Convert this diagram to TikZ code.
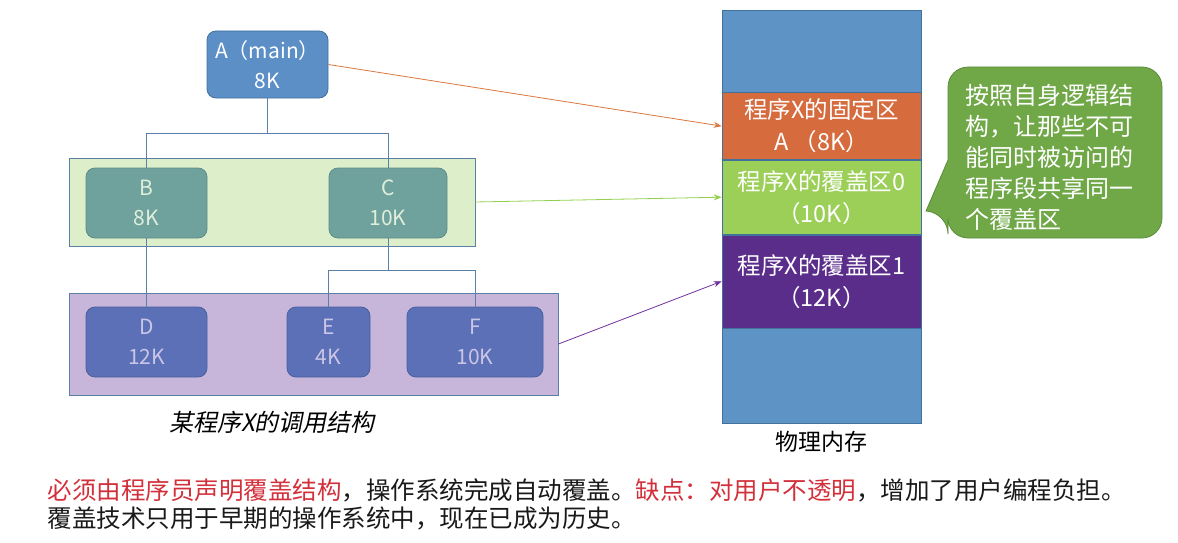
\documentclass[tikz,border=0pt]{standalone}
\usepackage{fontspec}
\setmainfont{Noto Sans CJK SC}
\newfontfamily\slantcjk[FakeSlant=0.2]{Noto Sans CJK SC}
\usepackage{xcolor}
\usetikzlibrary{positioning, arrows.meta, calc}

\definecolor{nodeblue}{HTML}{5B8FC6}
\definecolor{nodeblueedge}{HTML}{41719C}
\definecolor{lineblue}{HTML}{5A80A8}
\definecolor{greenband}{HTML}{DDEECB}
\definecolor{purpleband}{HTML}{C7B6DA}
\definecolor{tealbox}{HTML}{6FA29C}
\definecolor{tealedge}{HTML}{5E8C86}
\definecolor{tealtext}{HTML}{E0EEDC}
\definecolor{indigobox}{HTML}{5B70B6}
\definecolor{indigoedge}{HTML}{4A5FA0}
\definecolor{indigotext}{HTML}{CBC6E6}
\definecolor{memblue}{HTML}{5E93C6}
\definecolor{memorange}{HTML}{D66B3E}
\definecolor{memgreen}{HTML}{9BCF58}
\definecolor{mempurple}{HTML}{5B2D8B}
\definecolor{memedge}{HTML}{41719C}
\definecolor{bubblegreen}{HTML}{70A848}
\definecolor{bubbleedge}{HTML}{5B8C3A}
\definecolor{arroworange}{HTML}{D9773F}
\definecolor{arrowgreen}{HTML}{92D050}
\definecolor{arrowpurple}{HTML}{7030A0}
\definecolor{warnred}{HTML}{D2303A}

\begin{document}
\begin{tikzpicture}[x=1pt, y=-1pt,
    box/.style={draw, rounded corners=9pt, line width=0.8pt, align=center,
        inner sep=0pt, font=\fontsize{21}{30}\selectfont},
    band/.style={draw=lineblue, line width=0.8pt, inner sep=0pt},
    tree/.style={draw=lineblue, line width=1pt},
    memblock/.style={draw=memedge, line width=0.6pt, minimum width=199pt,
        inner sep=0pt, align=center, text=white,
        font=\fontsize{23.5}{32}\selectfont},
    link/.style={-{Stealth[length=8pt,width=6pt]}, line width=0.8pt}]
    \useasboundingbox (0,0) rectangle (1178,543);

    % Bands behind the call tree
    \node[band, fill=greenband, minimum width=406pt, minimum height=88pt] (band1) at (272,202) {};
    \node[band, fill=purpleband, minimum width=489pt, minimum height=102pt] (band2) at (313.5,344) {};

    % Call tree of program X
    \node[box, fill=nodeblue, draw=nodeblueedge, text=white, minimum width=121pt, minimum height=67pt] (A) at (267.5,64.5) {A（main）\\8K};
    \node[box, fill=tealbox, draw=tealedge, text=tealtext, minimum width=121pt, minimum height=70pt] (B) at (146.5,203) {B\\8K};
    \node[box, fill=tealbox, draw=tealedge, text=tealtext, minimum width=118pt, minimum height=70pt] (C) at (388,203) {C\\10K};
    \node[box, fill=indigobox, draw=indigoedge, text=indigotext, minimum width=121pt, minimum height=70pt] (D) at (146.5,342) {D\\12K};
    \node[box, fill=indigobox, draw=indigoedge, text=indigotext, minimum width=83pt, minimum height=70pt] (E) at (328.5,342) {E\\4K};
    \node[box, fill=indigobox, draw=indigoedge, text=indigotext, minimum width=136pt, minimum height=70pt] (F) at (475,342) {F\\10K};

    % Tree connectors
    \coordinate (j1) at ($(A.south)+(0,35)$);
    \coordinate (j2) at ($(C.south)+(0,32)$);
    \draw[tree] (A.south) -- (j1) -| (B.north);
    \draw[tree] (j1) -| (C.north);
    \draw[tree] (B.south) -- (D.north);
    \draw[tree] (C.south) -- (j2) -| (E.north);
    \draw[tree] (j2) -| (F.north);

    \node[font=\slantcjk\fontsize{24}{24}\selectfont] (caption) at (272,422) {某程序X的调用结构};

    % Physical memory
    \node[memblock, fill=memblue, minimum height=82pt] (mem0) at (821.5,51) {};
    \node[memblock, fill=memorange, minimum height=67pt, below=0pt of mem0] (fixed) {程序X的固定区\\A （8K）};
    \node[memblock, fill=memgreen, minimum height=74pt, below=0pt of fixed] (ov0) {程序X的覆盖区0\\（10K）};
    \node[memblock, fill=mempurple, minimum height=93pt, below=0pt of ov0] (ov1) {程序X的覆盖区1\\（12K）};
    \node[memblock, fill=memblue, minimum height=95pt, below=0pt of ov1] (mem4) {};
    \node[font=\fontsize{23}{23}\selectfont, below=4pt of mem4] (memlabel) {物理内存};

    % Arrows into memory
    \draw[link, draw=arroworange] (A.east) -- (fixed.west);
    \draw[link, draw=arrowgreen] (band1.east) -- (ov0.west);
    \draw[link, draw=arrowpurple] (band2.east) -- (ov1.west);

    % Speech bubble
    \filldraw[fill=bubblegreen, draw=bubbleedge, line width=0.8pt]
        (926,211) -- (948,160) [rounded corners=20pt] -- (948,67) -- (1162,67)
        -- (1162,238) -- (948,238) -- (948,214) [sharp corners] -- cycle;
    \node[text=white, align=left, font=\fontsize{24}{31}\selectfont] (note) at (1049,157)
        {按照自身逻辑结\\构，让那些不可\\能同时被访问的\\程序段共享同一\\个覆盖区};

    % Remarks under the figure
    \node[anchor=west, font=\fontsize{24.5}{24.5}\selectfont, text=black!90] (line1) at (44,490)
        {{\color{warnred}必须由程序员声明覆盖结构}，操作系统完成自动覆盖。{\color{warnred}缺点：对用户不透明}，增加了用户编程负担。};
    \node[anchor=west, font=\fontsize{24.5}{24.5}\selectfont, text=black!90] (line2) at (44,518)
        {覆盖技术只用于早期的操作系统中，现在已成为历史。};
\end{tikzpicture}
\end{document}
